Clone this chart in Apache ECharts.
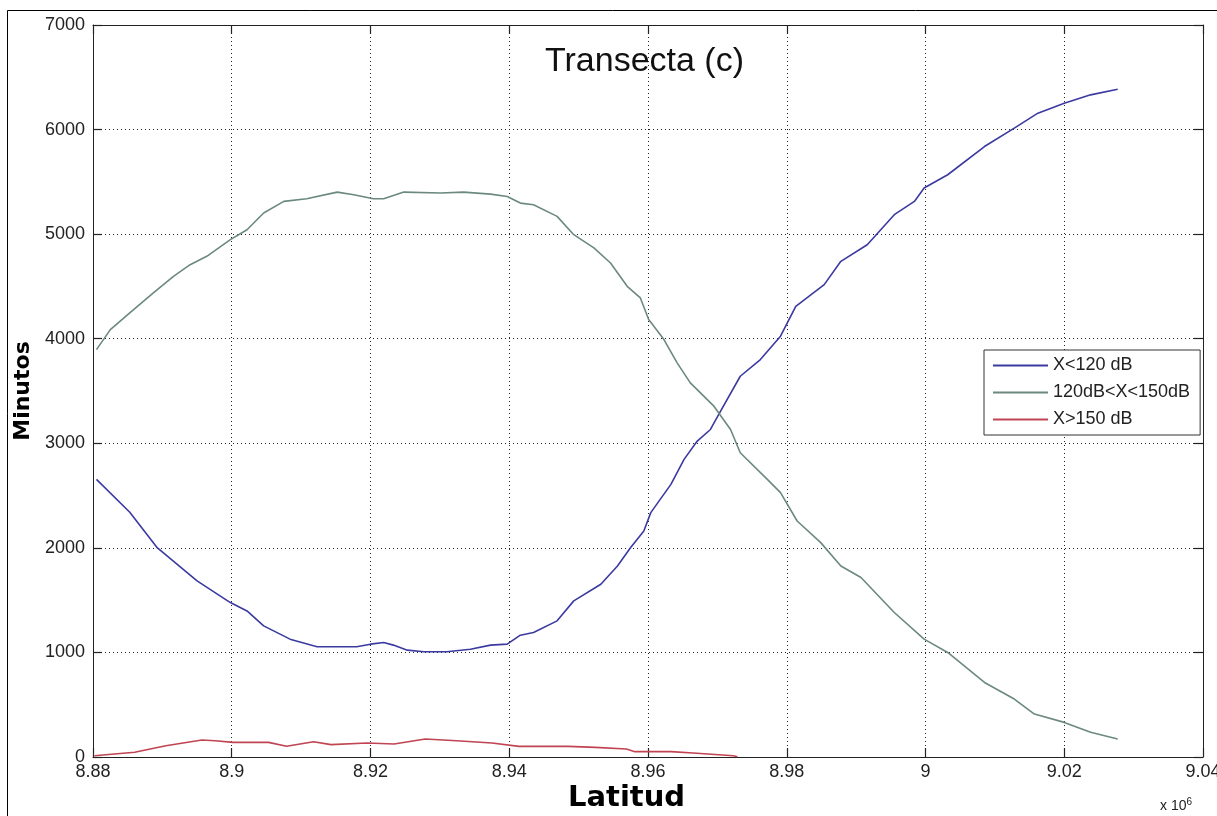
<!DOCTYPE html>
<html lang="es">
<head>
<meta charset="UTF-8" />
<title>Transecta (c)</title>
<script src="https://cdn.jsdelivr.net/npm/echarts@6/dist/echarts.min.js"></script>
<style>
    html, body { margin: 0; padding: 0; background: #fff; }
    #chart { width: 1217px; height: 816px; }
</style>
</head>
<body>
<div id="chart"></div>
<script>
// latitud (x 10^6) y minutos
var blueX = [8.8805, 8.8853, 8.8892, 8.8950, 8.8998, 8.9022, 8.9046, 8.9084, 8.9123, 8.9180,
    8.9200, 8.9219, 8.9233, 8.9253, 8.9277, 8.9310, 8.9344, 8.9373, 8.9397, 8.9416,
    8.9435, 8.9469, 8.9493, 8.9532, 8.9556, 8.9575, 8.9594, 8.9604, 8.9633, 8.9652,
    8.9671, 8.9690, 8.9702, 8.9733, 8.9762, 8.9791, 8.9813, 8.9854, 8.9878, 8.9916,
    8.9955, 8.9984, 8.9998, 9.0032, 9.0085, 9.0128, 9.0162, 9.0200, 9.0238, 9.0277];
var blueY = [2655, 2340, 2005, 1684, 1477, 1397, 1254, 1127, 1054, 1054,
    1079, 1095, 1070, 1022, 1006, 1006, 1031, 1070, 1079, 1165,
    1190, 1302, 1493, 1652, 1827, 2003, 2161, 2337, 2607, 2846,
    3021, 3132, 3276, 3641, 3801, 4024, 4310, 4517, 4740, 4899,
    5186, 5313, 5441, 5568, 5838, 6014, 6157, 6252, 6332, 6386];

var grayX = [8.8805, 8.8825, 8.8853, 8.8887, 8.8916, 8.8940, 8.8964, 8.8998, 8.9022, 8.9046,
    8.9075, 8.9108, 8.9152, 8.9176, 8.9204, 8.9219, 8.9248, 8.9301, 8.9334, 8.9373,
    8.9397, 8.9416, 8.9435, 8.9469, 8.9493, 8.9522, 8.9546, 8.9570, 8.9589, 8.9601,
    8.9623, 8.9642, 8.9661, 8.9695, 8.9719, 8.9733, 8.9772, 8.9791, 8.9815, 8.9849,
    8.9878, 8.9907, 8.9955, 8.9998, 9.0032, 9.0085, 9.0128, 9.0157, 9.0200, 9.0238, 9.0277];
var grayY = [3896, 4087, 4247, 4438, 4597, 4708, 4788, 4947, 5042, 5202,
    5313, 5338, 5402, 5377, 5338, 5338, 5402, 5393, 5402, 5383,
    5360, 5297, 5281, 5170, 4995, 4868, 4724, 4501, 4390, 4183,
    3992, 3769, 3578, 3355, 3132, 2910, 2655, 2528, 2257, 2050,
    1827, 1716, 1382, 1127, 1000, 713, 554, 411, 331, 236, 172];

var redX = [8.8802, 8.8860, 8.8905, 8.8957, 8.8976, 8.9002, 8.9053, 8.9079, 8.9118, 8.9143,
    8.9195, 8.9234, 8.9279, 8.9324, 8.9375, 8.9414, 8.9485, 8.9524, 8.9569, 8.9581,
    8.9633, 8.9665, 8.9723, 8.9729];
var redY = [12, 45, 108, 162, 156, 140, 140, 102, 146, 118,
    134, 124, 172, 156, 134, 102, 102, 92, 76, 51,
    51, 38, 12, 3];

var seriesNames = ['X<120 dB', '120dB<X<150dB', 'X>150 dB'];
var xMin = 8.88, xMax = 9.04, xStep = 0.02;
var yMin = 0, yMax = 7000, yStep = 1000;

function pairs(xs, ys) {
    return xs.map(function (x, i) { return [x, ys[i]]; });
}

var chart = echarts.init(document.getElementById('chart'));
var font = 'Liberation Sans, Arial, sans-serif';
var axisLine = { show: true, onZero: false, lineStyle: { color: '#222', width: 1 } };
var tick = { show: true, inside: true, length: 9, lineStyle: { color: '#222', width: 1.2 } };
var grid = { show: true, lineStyle: { color: '#222', width: 1, type: [1, 3] } };

var option = {
    animation: false,
    backgroundColor: '#fff',
    title: {
        text: 'Transecta (c)',
        left: 545,
        top: 45,
        padding: 0,
        textStyle: { fontFamily: font, fontSize: 34, fontWeight: 'normal', color: '#111' }
    },
    legend: {
        orient: 'vertical',
        left: 984,
        top: 350,
        padding: [5, 10, 5, 9],
        itemGap: 6,
        itemWidth: 55,
        itemHeight: 2,
        icon: 'rect',
        backgroundColor: '#fff',
        borderColor: '#333',
        borderWidth: 1,
        borderRadius: 0,
        data: seriesNames,
        textStyle: { fontFamily: font, fontSize: 18, color: '#222', lineHeight: 21 }
    },
    grid: { left: 93, right: 14, top: 25, bottom: 59, outerBoundsMode: 'none', containLabel: false },
    xAxis: [{
        type: 'value',
        min: xMin, max: xMax, interval: xStep,
        axisLine: axisLine,
        axisTick: tick,
        splitLine: grid,
        axisLabel: {
            fontFamily: font, fontSize: 18, color: '#222', margin: 6,
            formatter: function (v) { return String(parseFloat(v.toFixed(2))); }
        }
    }, {
        type: 'value', position: 'top',
        min: xMin, max: xMax, interval: xStep,
        axisLine: axisLine, axisTick: tick,
        axisLabel: { show: false }, splitLine: { show: false }
    }],
    yAxis: [{
        type: 'value',
        min: yMin, max: yMax, interval: yStep,
        name: 'Minutos',
        nameLocation: 'middle',
        nameGap: 42,
        nameRotate: 90,
        nameTextStyle: { fontFamily: 'DejaVu Sans, sans-serif', fontSize: 22, fontWeight: 'bold', color: '#000' },
        axisLine: axisLine,
        axisTick: tick,
        splitLine: grid,
        axisLabel: {
            fontFamily: font, fontSize: 18, color: '#222', margin: 8,
            formatter: function (v) { return String(v); }
        }
    }, {
        type: 'value', position: 'right',
        min: yMin, max: yMax, interval: yStep,
        axisLine: axisLine, axisTick: tick,
        axisLabel: { show: false }, splitLine: { show: false }
    }],
    graphic: [{
        type: 'rect',
        shape: { x: 7.5, y: 10.5, width: 1230, height: 830 },
        style: { fill: 'none', stroke: '#000', lineWidth: 1 },
        silent: true
    }, {
        type: 'text',
        left: 568, top: 784,
        style: {
            text: 'Latitud',
            fontFamily: 'DejaVu Sans, sans-serif', fontSize: 29, fontWeight: 'bold', fill: '#000'
        }
    }, {
        type: 'text',
        left: 1160, top: 797,
        style: {
            text: 'x 10{s|6}',
            fontFamily: font, fontSize: 14, fill: '#222',
            rich: { s: { fontSize: 10, verticalAlign: 'top', padding: [0, 0, 8, 0], fill: '#222' } }
        }
    }],
    series: [{
        name: seriesNames[0], type: 'line', symbol: 'none',
        data: pairs(blueX, blueY),
        lineStyle: { color: '#3a3aa0', width: 1.6 },
        itemStyle: { color: '#3a3aa0' }
    }, {
        name: seriesNames[1], type: 'line', symbol: 'none',
        data: pairs(grayX, grayY),
        lineStyle: { color: '#6b8a7d', width: 1.6 },
        itemStyle: { color: '#6b8a7d' }
    }, {
        name: seriesNames[2], type: 'line', symbol: 'none',
        data: pairs(redX, redY),
        lineStyle: { color: '#c04452', width: 1.6 },
        itemStyle: { color: '#c04452' }
    }]
};
chart.setOption(option);
</script>
</body>
</html>
